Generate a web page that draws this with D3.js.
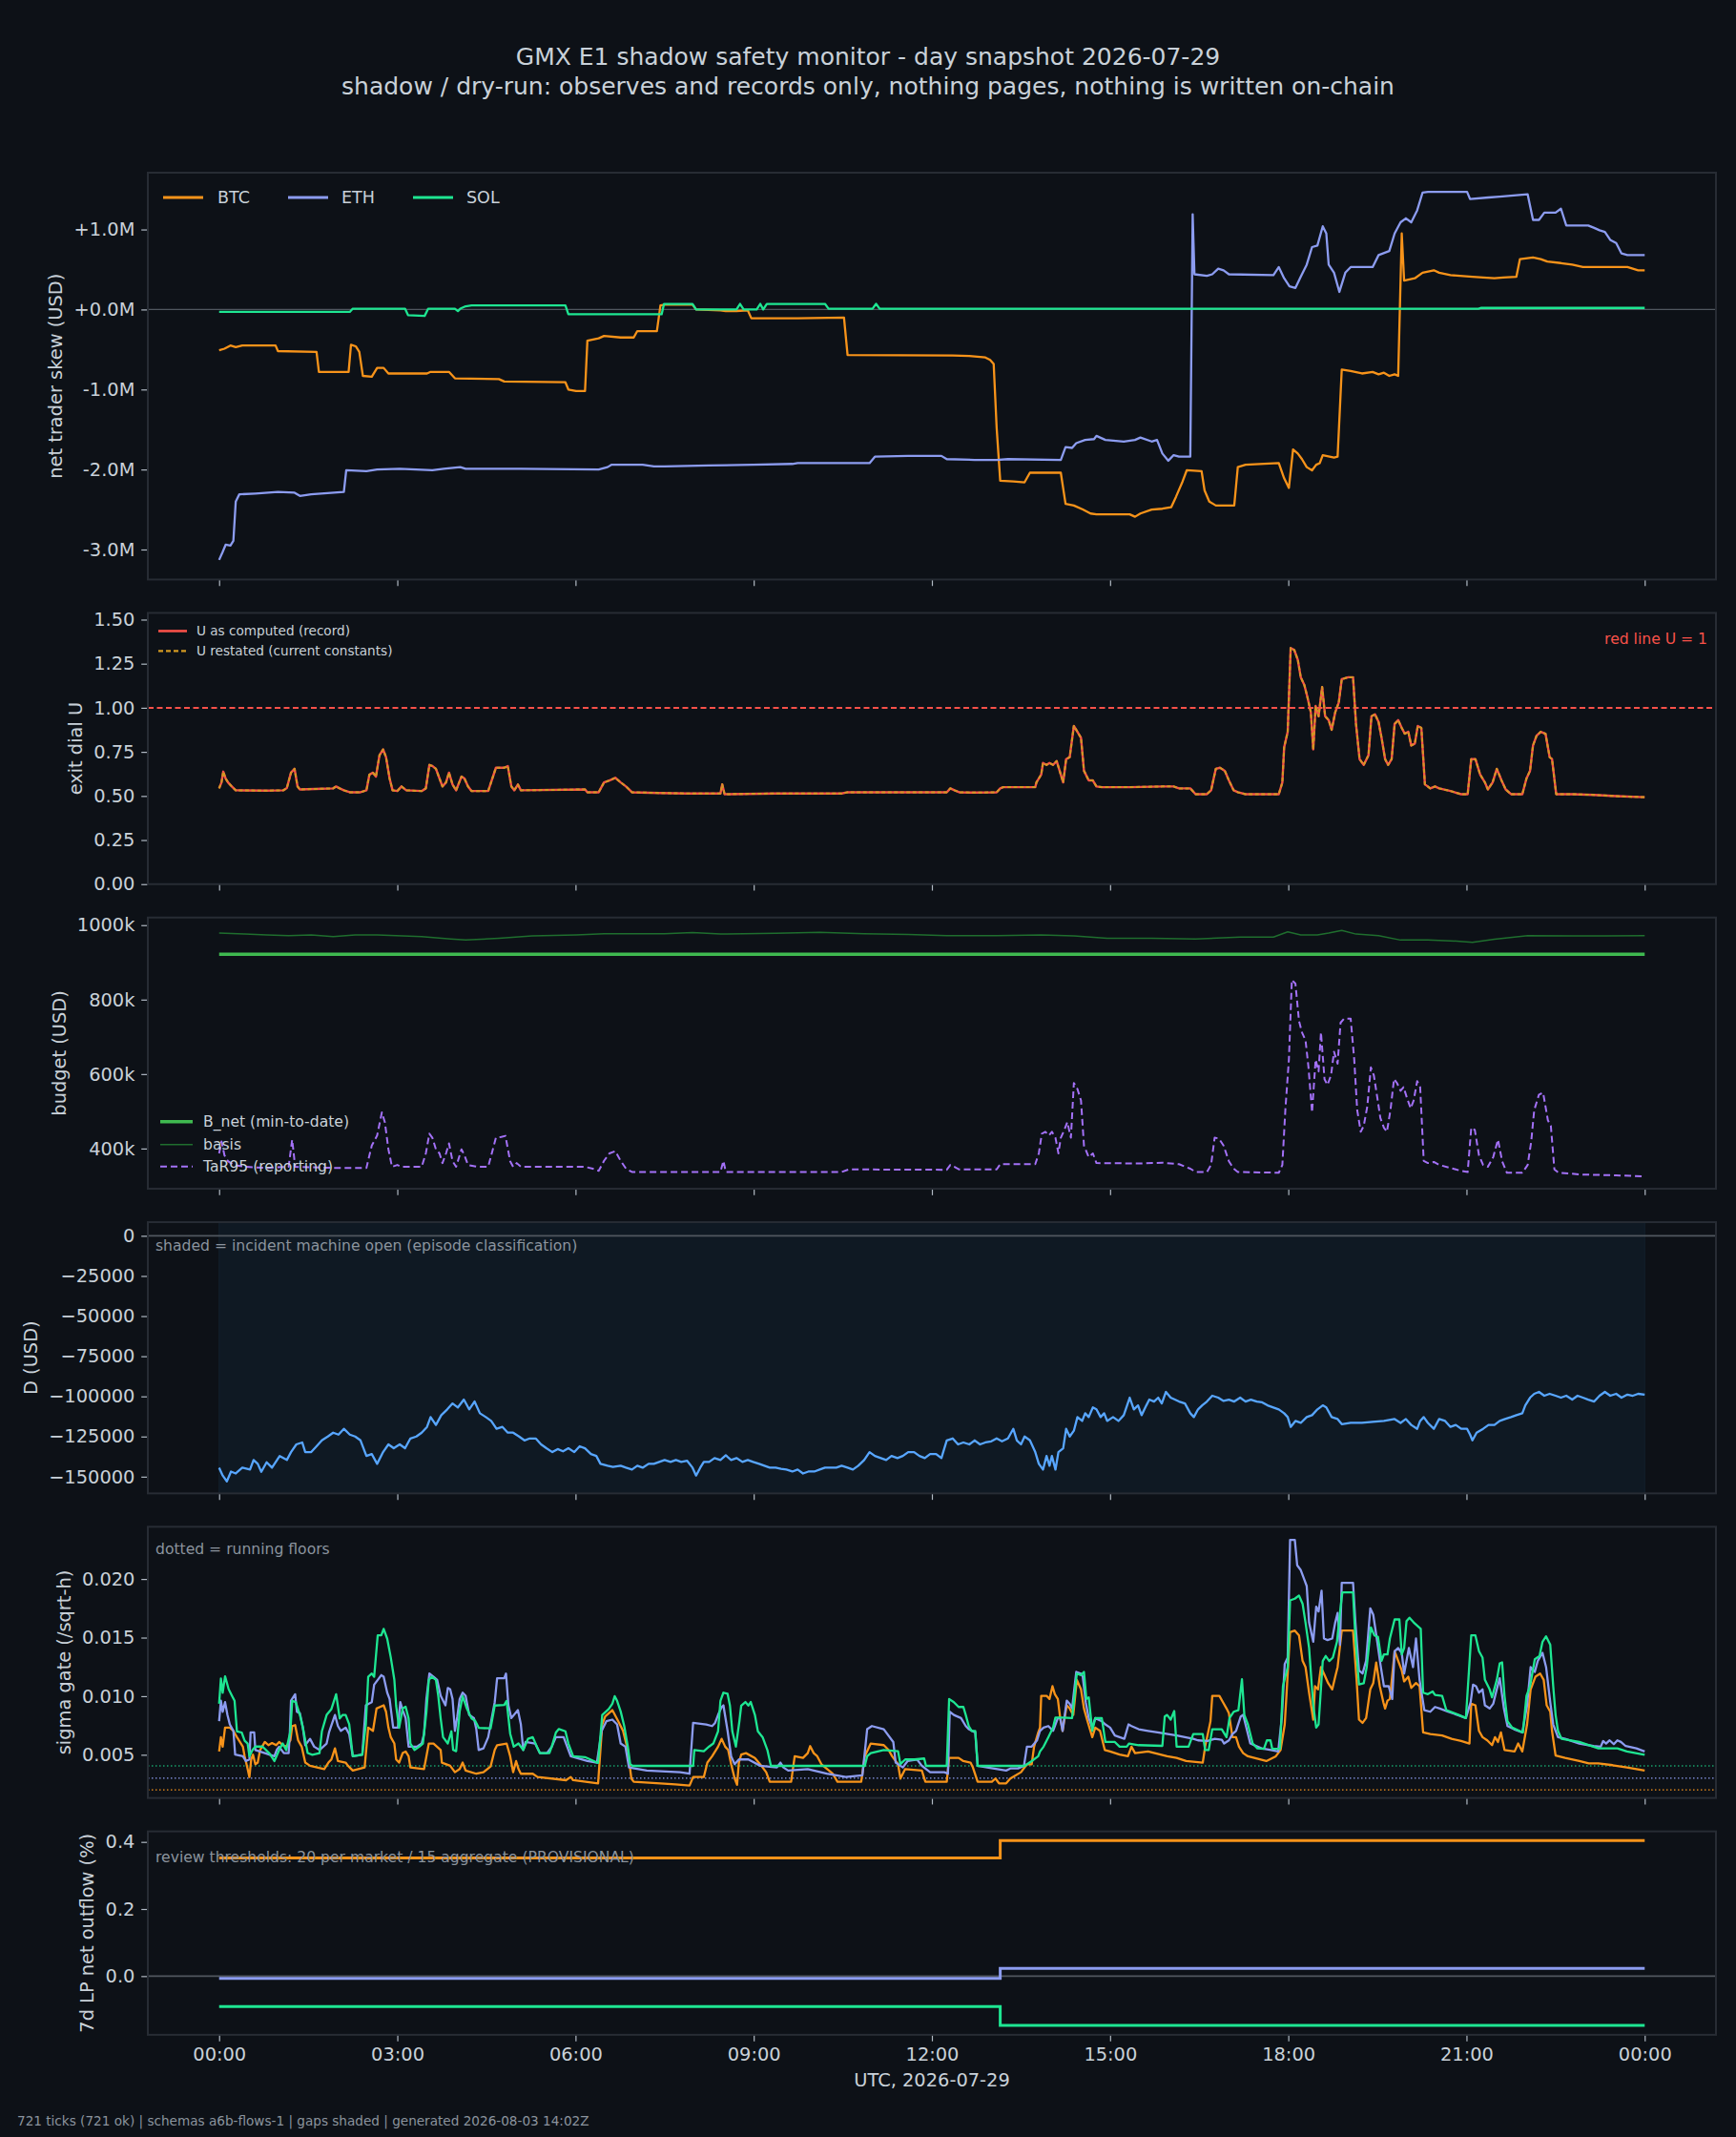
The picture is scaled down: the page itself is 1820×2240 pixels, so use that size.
<!DOCTYPE html>
<html>
<head>
<meta charset="utf-8">
<script src="https://cdn.jsdelivr.net/npm/d3@7"></script>
<style>
body { margin: 0; background: #0d1117; }
text { font-family: "DejaVu Sans", sans-serif; }
</style>
</head>
<body>
<div id="chart"></div>
<script>
// ---- data (hours since 00:00 UTC, value) ----
var hourTicks = [0, 3, 6, 9, 12, 15, 18, 21, 24];
var hourLabels = ["00:00", "03:00", "06:00", "09:00", "12:00", "15:00", "18:00", "21:00", "00:00"];

// net trader skew, USD millions
var skewBtc = [[0,-0.51],[0.09,-0.49],[0.19,-0.45],[0.28,-0.47],[0.39,-0.45],[0.95,-0.45],[0.99,-0.52],[1.64,-0.53],[1.68,-0.78],[2.18,-0.78],[2.22,-0.44],[2.3,-0.46],[2.36,-0.53],[2.42,-0.83],[2.57,-0.84],[2.66,-0.73],[2.77,-0.73],[2.85,-0.8],[3.5,-0.8],[3.56,-0.78],[3.87,-0.78],[3.97,-0.86],[4.71,-0.87],[4.8,-0.9],[5.83,-0.91],[5.88,-1.0],[6.01,-1.02],[6.16,-1.02],[6.2,-0.39],[6.39,-0.36],[6.48,-0.33],[6.76,-0.35],[6.98,-0.35],[7.04,-0.27],[7.37,-0.27],[7.43,0.05],[7.5,0.06],[7.97,0.06],[8.03,0.0],[8.44,-0.01],[8.53,-0.02],[8.71,-0.02],[8.9,-0.01],[8.96,-0.11],[9.74,-0.11],[10.52,-0.1],[10.58,-0.57],[12.35,-0.575],[12.63,-0.58],[12.9,-0.6],[12.98,-0.63],[13.04,-0.68],[13.09,-1.48],[13.15,-2.14],[13.37,-2.15],[13.56,-2.16],[13.65,-2.04],[14.17,-2.04],[14.25,-2.43],[14.39,-2.45],[14.54,-2.5],[14.67,-2.55],[14.77,-2.56],[15.33,-2.56],[15.42,-2.59],[15.51,-2.55],[15.7,-2.5],[15.88,-2.49],[16.03,-2.47],[16.11,-2.34],[16.22,-2.15],[16.29,-2.01],[16.54,-2.02],[16.59,-2.26],[16.67,-2.4],[16.78,-2.45],[17.09,-2.45],[17.15,-1.97],[17.28,-1.94],[17.84,-1.92],[17.93,-2.11],[18.01,-2.23],[18.08,-1.75],[18.16,-1.8],[18.23,-1.87],[18.31,-1.97],[18.4,-2.01],[18.47,-1.94],[18.53,-1.92],[18.58,-1.82],[18.77,-1.85],[18.83,-1.84],[18.9,-0.75],[19.05,-0.77],[19.24,-0.8],[19.42,-0.78],[19.52,-0.81],[19.61,-0.79],[19.7,-0.83],[19.79,-0.81],[19.85,-0.83],[19.91,0.95],[19.95,0.36],[20.13,0.39],[20.26,0.46],[20.45,0.49],[20.54,0.46],[20.73,0.43],[21.1,0.41],[21.28,0.4],[21.47,0.39],[21.62,0.4],[21.84,0.41],[21.9,0.63],[22.12,0.65],[22.25,0.63],[22.36,0.6],[22.59,0.58],[22.78,0.56],[22.96,0.53],[23.71,0.53],[23.8,0.51],[23.89,0.49],[24,0.49]];
var skewEth = [[0,-3.13],[0.06,-3.03],[0.11,-2.94],[0.19,-2.95],[0.24,-2.89],[0.28,-2.4],[0.34,-2.31],[0.61,-2.3],[0.99,-2.28],[1.27,-2.29],[1.36,-2.33],[1.55,-2.31],[2.1,-2.28],[2.14,-2.01],[2.48,-2.02],[2.66,-2.0],[3.04,-1.99],[3.59,-2.01],[3.78,-1.99],[4.06,-1.97],[4.15,-1.99],[5.08,-1.99],[6.39,-2.0],[6.54,-1.97],[6.61,-1.94],[7.13,-1.94],[7.32,-1.96],[7.5,-1.96],[8.25,-1.95],[8.99,-1.94],[9.65,-1.93],[9.74,-1.92],[10.95,-1.92],[11.04,-1.84],[11.6,-1.83],[12.16,-1.83],[12.25,-1.87],[12.72,-1.88],[13.09,-1.88],[13.28,-1.87],[14.17,-1.88],[14.25,-1.72],[14.36,-1.73],[14.43,-1.67],[14.58,-1.63],[14.73,-1.62],[14.77,-1.58],[14.92,-1.63],[15.23,-1.65],[15.42,-1.63],[15.51,-1.6],[15.7,-1.65],[15.79,-1.63],[15.88,-1.8],[15.98,-1.89],[16.07,-1.82],[16.16,-1.84],[16.35,-1.84],[16.39,1.19],[16.42,0.44],[16.63,0.42],[16.72,0.44],[16.82,0.51],[16.91,0.49],[17.0,0.44],[17.75,0.43],[17.84,0.53],[17.93,0.39],[18.02,0.29],[18.12,0.27],[18.21,0.41],[18.31,0.56],[18.4,0.78],[18.49,0.8],[18.58,1.04],[18.64,0.95],[18.68,0.56],[18.77,0.46],[18.86,0.22],[18.96,0.46],[19.05,0.53],[19.42,0.53],[19.52,0.68],[19.7,0.73],[19.79,0.95],[19.89,1.09],[19.98,1.14],[20.07,1.09],[20.17,1.24],[20.26,1.46],[20.35,1.47],[21.01,1.47],[21.06,1.38],[21.37,1.4],[21.56,1.41],[22.03,1.44],[22.12,1.12],[22.22,1.12],[22.31,1.21],[22.5,1.21],[22.59,1.26],[22.68,1.05],[23.05,1.05],[23.15,1.02],[23.24,0.99],[23.33,0.97],[23.42,0.87],[23.52,0.83],[23.61,0.7],[23.71,0.68],[24,0.68]];
var skewSol = [[0,-0.03],[2.2,-0.03],[2.25,0.01],[3.13,0.01],[3.18,-0.07],[3.46,-0.08],[3.52,0.01],[3.97,0.01],[4.02,-0.02],[4.06,0.01],[4.15,0.04],[4.25,0.05],[5.83,0.05],[5.88,-0.06],[7.45,-0.06],[7.49,0.07],[7.97,0.07],[8.03,0.0],[8.71,0.0],[8.77,0.07],[8.83,0.0],[9.05,0.0],[9.11,0.07],[9.16,0.0],[9.22,0.07],[10.2,0.07],[10.26,0.01],[11.0,0.01],[11.06,0.07],[11.12,0.01],[21.2,0.01],[21.25,0.02],[24,0.02]];

// exit dial U
var uRecord = [[0,0.543],[0.04,0.577],[0.07,0.638],[0.11,0.599],[0.15,0.577],[0.21,0.555],[0.28,0.532],[0.8,0.53],[1.08,0.532],[1.14,0.545],[1.21,0.632],[1.27,0.654],[1.32,0.554],[1.36,0.537],[1.73,0.541],[1.92,0.543],[1.97,0.554],[2.03,0.543],[2.1,0.532],[2.2,0.521],[2.38,0.521],[2.48,0.532],[2.53,0.621],[2.59,0.632],[2.64,0.61],[2.7,0.731],[2.76,0.764],[2.81,0.72],[2.87,0.599],[2.92,0.532],[3.0,0.528],[3.07,0.554],[3.15,0.532],[3.41,0.528],[3.48,0.543],[3.54,0.676],[3.59,0.67],[3.65,0.654],[3.71,0.599],[3.76,0.554],[3.82,0.577],[3.87,0.632],[3.93,0.565],[3.99,0.532],[4.08,0.61],[4.13,0.599],[4.19,0.554],[4.25,0.528],[4.53,0.528],[4.66,0.66],[4.8,0.66],[4.86,0.669],[4.92,0.554],[4.97,0.532],[5.03,0.565],[5.08,0.532],[6.16,0.537],[6.2,0.521],[6.39,0.521],[6.48,0.577],[6.57,0.588],[6.67,0.603],[6.76,0.577],[6.85,0.554],[6.95,0.521],[7.41,0.517],[7.88,0.514],[8.44,0.514],[8.47,0.566],[8.51,0.51],[9.37,0.514],[10.48,0.514],[10.58,0.521],[12.25,0.521],[12.31,0.543],[12.38,0.532],[12.46,0.521],[12.72,0.519],[13.09,0.521],[13.15,0.543],[13.2,0.55],[13.74,0.55],[13.76,0.577],[13.84,0.621],[13.87,0.687],[13.93,0.676],[13.98,0.687],[14.04,0.676],[14.1,0.698],[14.15,0.643],[14.21,0.577],[14.26,0.709],[14.32,0.72],[14.39,0.897],[14.45,0.864],[14.51,0.83],[14.56,0.643],[14.64,0.588],[14.71,0.588],[14.77,0.554],[14.86,0.55],[15.33,0.55],[15.88,0.554],[16.07,0.554],[16.16,0.543],[16.35,0.543],[16.44,0.51],[16.63,0.51],[16.7,0.532],[16.78,0.654],[16.85,0.66],[16.93,0.643],[17.0,0.588],[17.08,0.532],[17.15,0.521],[17.28,0.51],[17.84,0.51],[17.9,0.577],[17.93,0.775],[17.99,0.864],[18.04,1.339],[18.1,1.328],[18.16,1.272],[18.21,1.173],[18.27,1.129],[18.32,1.063],[18.38,0.974],[18.42,0.764],[18.46,1.01],[18.51,0.952],[18.57,1.118],[18.62,0.952],[18.68,0.93],[18.73,0.875],[18.79,0.974],[18.85,1.03],[18.9,1.162],[19.01,1.173],[19.09,1.173],[19.14,0.908],[19.2,0.709],[19.27,0.676],[19.35,0.731],[19.4,0.952],[19.46,0.963],[19.52,0.919],[19.57,0.83],[19.63,0.709],[19.68,0.676],[19.74,0.709],[19.79,0.908],[19.85,0.93],[19.91,0.886],[19.96,0.853],[20.02,0.864],[20.07,0.786],[20.13,0.797],[20.18,0.897],[20.24,0.886],[20.3,0.566],[20.39,0.543],[20.47,0.554],[20.54,0.543],[20.73,0.528],[20.91,0.51],[21.02,0.51],[21.08,0.709],[21.15,0.709],[21.23,0.621],[21.31,0.577],[21.36,0.537],[21.44,0.577],[21.51,0.654],[21.59,0.588],[21.66,0.537],[21.75,0.51],[21.94,0.51],[22.01,0.599],[22.07,0.643],[22.12,0.786],[22.18,0.842],[22.25,0.864],[22.33,0.853],[22.4,0.72],[22.44,0.709],[22.51,0.51],[22.78,0.51],[23.15,0.506],[23.52,0.499],[24,0.493]];
var uRedLine = 1.0;

// budget, USD thousands
var bNet = [[0,922],[24,922]];
var basis = [[0,979],[0.43,976],[0.8,974],[1.17,972],[1.55,974],[1.92,969],[2.29,974],[2.66,974],[3.41,969],[3.9,963],[4.15,960],[4.71,965],[5.27,971],[6.01,974],[6.48,977],[7.5,977],[7.97,980],[8.44,976],[9.37,978],[10.11,981],[10.86,977],[11.6,975],[12.25,972],[13.09,972],[13.84,974],[14.39,971],[14.95,965],[15.7,965],[16.44,963],[17.19,968],[17.75,968],[17.99,982],[18.21,974],[18.49,974],[18.68,979],[18.9,986],[19.14,976],[19.52,972],[19.89,960],[20.35,960],[20.73,958],[21.1,954],[21.47,962],[22.03,972],[22.78,971],[23.33,971],[24,972]];
var tar95 = [[0,387],[0.04,419],[0.09,382],[0.15,366],[0.24,356],[0.43,351],[0.8,348],[1.17,351],[1.23,424],[1.28,351],[1.92,348],[2.48,348],[2.57,408],[2.66,435],[2.74,497],[2.79,471],[2.85,398],[2.91,351],[3.0,356],[3.07,351],[3.41,351],[3.48,387],[3.54,440],[3.59,429],[3.65,398],[3.71,387],[3.76,361],[3.82,387],[3.87,414],[3.93,366],[3.99,351],[4.08,398],[4.13,382],[4.19,356],[4.34,351],[4.53,351],[4.66,429],[4.75,431],[4.82,434],[4.9,366],[4.95,351],[5.01,361],[5.08,351],[6.16,351],[6.29,346],[6.39,340],[6.48,367],[6.57,387],[6.67,393],[6.76,367],[6.85,346],[6.95,337],[8.44,337],[8.49,367],[8.53,337],[10.48,337],[10.6,344],[12.25,343],[12.31,356],[12.38,351],[12.46,344],[13.09,344],[13.15,358],[13.74,358],[13.8,387],[13.85,440],[13.91,445],[13.97,435],[14.02,445],[14.08,429],[14.13,387],[14.17,429],[14.23,450],[14.28,471],[14.34,429],[14.39,576],[14.45,560],[14.51,529],[14.56,408],[14.64,377],[14.71,387],[14.77,361],[15.51,360],[15.88,362],[16.16,358],[16.35,346],[16.44,337],[16.63,337],[16.7,356],[16.76,429],[16.83,427],[16.91,408],[17.0,366],[17.08,346],[17.15,337],[17.84,335],[17.9,356],[17.95,503],[18.01,639],[18.06,853],[18.12,843],[18.18,743],[18.23,712],[18.29,691],[18.34,618],[18.4,497],[18.46,639],[18.51,607],[18.55,712],[18.61,586],[18.66,571],[18.72,597],[18.77,660],[18.83,628],[18.88,738],[18.94,749],[19.05,749],[19.11,639],[19.16,503],[19.22,445],[19.27,461],[19.33,513],[19.39,618],[19.44,597],[19.5,535],[19.55,482],[19.61,456],[19.66,445],[19.72,503],[19.78,587],[19.83,576],[19.89,555],[19.94,565],[20.0,535],[20.06,508],[20.11,529],[20.17,581],[20.22,565],[20.28,367],[20.35,361],[20.45,364],[20.54,356],[20.73,348],[20.91,340],[21.02,337],[21.08,456],[21.14,450],[21.21,382],[21.28,356],[21.36,351],[21.45,377],[21.53,424],[21.6,366],[21.68,335],[21.94,335],[22.03,356],[22.09,419],[22.14,503],[22.22,545],[22.29,550],[22.37,476],[22.42,461],[22.48,344],[22.55,335],[22.96,330],[23.52,328],[24,325]];

// D, USD thousands; incident machine open windows (hours)
var incidentOpen = [[0, 24]];
var dUsdK = [[0,-144.4],[0.06,-149.3],[0.13,-152.9],[0.2,-146.8],[0.28,-148],[0.39,-144.4],[0.52,-145.6],[0.58,-139.6],[0.65,-142],[0.71,-147],[0.8,-141],[0.89,-144.4],[1.02,-137.1],[1.14,-139.6],[1.21,-134.7],[1.3,-129.9],[1.4,-128.7],[1.45,-134.7],[1.55,-134.7],[1.64,-131.1],[1.73,-127.4],[1.83,-125],[1.92,-122.6],[2.01,-123.8],[2.1,-120.2],[2.2,-123.8],[2.29,-125],[2.38,-127.4],[2.48,-137.1],[2.57,-135.9],[2.66,-142],[2.76,-134.7],[2.85,-129.9],[2.94,-132.3],[3.04,-129.9],[3.13,-132.3],[3.22,-126.2],[3.32,-125],[3.41,-122.6],[3.5,-119],[3.56,-112.9],[3.65,-117.8],[3.74,-111.7],[3.84,-108.1],[3.93,-104.4],[4.02,-106.9],[4.12,-102],[4.21,-108.1],[4.3,-103.2],[4.39,-110.5],[4.49,-112.9],[4.58,-115.3],[4.67,-120.2],[4.77,-119],[4.86,-122.6],[4.95,-122.6],[5.05,-125],[5.14,-127.4],[5.23,-126.2],[5.33,-126.2],[5.42,-129.9],[5.51,-132.3],[5.61,-134.7],[5.7,-132.8],[5.79,-134.2],[5.88,-132.3],[5.98,-134.7],[6.07,-131.1],[6.16,-132.3],[6.26,-135.9],[6.35,-137.1],[6.42,-142],[6.54,-143.2],[6.63,-143.9],[6.76,-143.2],[6.85,-144.4],[6.95,-145.6],[7.04,-143.2],[7.13,-144.4],[7.23,-142],[7.32,-142],[7.41,-140.8],[7.5,-139.6],[7.6,-140.8],[7.69,-139.6],[7.78,-140.8],[7.88,-140.1],[7.97,-144.4],[8.03,-149.3],[8.1,-144.4],[8.16,-140.8],[8.25,-140.8],[8.34,-138.4],[8.44,-139.6],[8.53,-136.7],[8.62,-139.6],[8.71,-138.4],[8.81,-140.8],[8.9,-139.6],[8.99,-140.8],[9.09,-142],[9.18,-143.2],[9.27,-144.4],[9.37,-144.4],[9.46,-145.1],[9.55,-145.6],[9.65,-146.8],[9.74,-145.6],[9.83,-148],[9.92,-146.8],[10.02,-146.8],[10.11,-145.6],[10.2,-144.4],[10.39,-144.4],[10.48,-143.2],[10.58,-144.4],[10.67,-145.6],[10.76,-143.2],[10.86,-139.6],[10.95,-134.7],[11.04,-137.1],[11.14,-138.4],[11.23,-139.6],[11.32,-137.1],[11.42,-138.4],[11.51,-137.1],[11.6,-134.7],[11.7,-134.7],[11.79,-137.1],[11.88,-138.4],[11.97,-135.9],[12.07,-135.9],[12.16,-138.4],[12.25,-127.4],[12.35,-126.2],[12.44,-129.9],[12.53,-128.7],[12.63,-129.9],[12.72,-127.4],[12.81,-129.9],[12.9,-128.7],[13.0,-128],[13.09,-126.2],[13.18,-128],[13.28,-126.2],[13.37,-120.2],[13.43,-127.4],[13.5,-129.9],[13.56,-125],[13.65,-127.4],[13.74,-134.7],[13.8,-142],[13.87,-145.6],[13.93,-137.1],[13.98,-143.2],[14.02,-137.1],[14.08,-145.6],[14.13,-134.7],[14.21,-132.3],[14.26,-120.2],[14.32,-125],[14.39,-121.4],[14.45,-112.9],[14.53,-115.3],[14.58,-110.5],[14.64,-112.9],[14.71,-106.9],[14.77,-108.1],[14.84,-112.9],[14.9,-110.5],[14.95,-115.3],[15.05,-112.9],[15.14,-115.3],[15.23,-111.7],[15.33,-100.8],[15.4,-108.1],[15.47,-105.6],[15.53,-111.7],[15.61,-105.6],[15.66,-102],[15.74,-103.2],[15.81,-100.8],[15.87,-104.4],[15.94,-97.2],[16.02,-100.8],[16.09,-102],[16.16,-103.2],[16.26,-104.4],[16.35,-110.5],[16.41,-112.9],[16.48,-108.1],[16.55,-105.6],[16.63,-103.2],[16.72,-99.6],[16.82,-100.8],[16.91,-102.8],[17.0,-102],[17.09,-103.2],[17.19,-100.8],[17.28,-103.2],[17.37,-102],[17.47,-103.2],[17.56,-103.7],[17.65,-105.6],[17.75,-106.9],[17.84,-108.1],[17.93,-110.5],[17.99,-112.9],[18.04,-119],[18.12,-115.3],[18.21,-116.5],[18.31,-112.9],[18.4,-111.7],[18.49,-108.1],[18.58,-105.6],[18.64,-106.9],[18.73,-112.9],[18.83,-114.1],[18.9,-117.3],[19.05,-116.5],[19.24,-116.5],[19.42,-115.8],[19.61,-115.3],[19.79,-114.1],[19.89,-116.5],[19.98,-114.1],[20.07,-117.8],[20.17,-120.2],[20.22,-115.3],[20.28,-112.9],[20.35,-116.5],[20.45,-120.2],[20.54,-114.1],[20.64,-115.3],[20.73,-119],[20.82,-117.8],[20.91,-120.2],[21.01,-120.2],[21.06,-123.8],[21.1,-127.4],[21.17,-122.6],[21.28,-120.2],[21.37,-117.8],[21.47,-117.8],[21.56,-115.3],[21.65,-114.1],[21.75,-112.9],[21.84,-111.7],[21.94,-110.5],[21.99,-105.6],[22.07,-100.8],[22.14,-98.4],[22.22,-97.2],[22.31,-99.6],[22.4,-98.4],[22.5,-99.6],[22.59,-100.8],[22.68,-99.6],[22.78,-102],[22.87,-99.6],[22.96,-100.8],[23.05,-102],[23.15,-103.2],[23.24,-99.6],[23.33,-97.2],[23.42,-99.6],[23.52,-98.4],[23.61,-100.8],[23.71,-98.9],[23.8,-99.6],[23.89,-98.4],[24,-98.9]];

// sigma gate, units of 1e-3 per sqrt-hour; running floors
var sigmaFloorBtc = 2.0, sigmaFloorEth = 3.0, sigmaFloorSol = 4.05;
var sigmaBtc = [[0,5.28],[0.03,6.5],[0.06,5.69],[0.1,7.32],[0.18,7.32],[0.24,7.04],[0.3,6.5],[0.4,5.69],[0.43,4.87],[0.48,3.78],[0.51,3.1],[0.54,4.6],[0.57,5.01],[0.61,4.19],[0.65,4.33],[0.69,5.41],[0.77,6.09],[0.83,5.82],[0.89,6.0],[0.96,5.82],[1.01,6.09],[1.07,5.82],[1.13,5.69],[1.2,6.23],[1.23,7.45],[1.28,7.53],[1.33,6.23],[1.39,5.69],[1.45,4.33],[1.53,4.06],[1.77,3.78],[1.84,4.33],[1.89,4.6],[1.95,5.55],[2.0,4.46],[2.13,4.33],[2.17,4.06],[2.25,3.65],[2.45,3.92],[2.51,7.32],[2.59,7.04],[2.65,8.95],[2.77,9.22],[2.81,8.67],[2.85,7.32],[2.89,6.5],[2.95,5.96],[2.98,4.6],[3.03,4.33],[3.09,5.14],[3.14,5.28],[3.19,4.87],[3.22,3.92],[3.45,3.78],[3.49,4.87],[3.53,5.96],[3.61,5.96],[3.73,5.41],[3.75,4.33],[3.89,4.06],[3.97,3.51],[4.05,3.78],[4.1,4.33],[4.15,3.65],[4.33,3.38],[4.45,3.51],[4.57,4.0],[4.64,5.41],[4.68,5.82],[4.84,5.96],[4.9,4.87],[4.95,3.51],[5.0,4.46],[5.04,3.78],[5.08,3.38],[5.28,3.38],[5.36,3.1],[5.84,2.83],[5.92,3.1],[5.96,2.83],[6.38,2.56],[6.45,7.59],[6.5,8.27],[6.62,8.81],[6.72,7.86],[6.8,7.04],[6.88,5.41],[6.94,2.97],[6.98,2.7],[7.68,2.48],[7.92,2.37],[7.98,3.1],[8.16,3.1],[8.22,4.33],[8.3,4.87],[8.4,5.69],[8.46,6.36],[8.52,5.69],[8.57,5.41],[8.62,4.19],[8.68,2.97],[8.72,2.43],[8.75,4.33],[8.79,5.01],[8.87,5.14],[9.02,4.73],[9.15,3.92],[9.21,3.51],[9.27,2.7],[9.63,2.7],[9.69,4.87],[9.83,4.73],[9.91,5.14],[9.95,5.74],[10.01,5.14],[10.07,4.87],[10.14,4.19],[10.33,3.38],[10.41,2.7],[10.81,2.7],[10.87,4.87],[10.97,5.96],[11.19,5.82],[11.27,5.41],[11.33,4.87],[11.43,4.19],[11.47,2.97],[11.55,3.78],[11.83,3.65],[11.89,2.7],[12.25,2.7],[12.29,4.73],[12.45,4.73],[12.53,4.46],[12.65,4.33],[12.69,3.92],[12.77,2.7],[13.01,2.7],[13.07,2.97],[13.13,2.56],[13.25,2.56],[13.32,2.97],[13.5,3.51],[13.6,4.19],[13.68,4.19],[13.72,5.69],[13.79,6.91],[13.82,7.32],[13.84,10.03],[13.93,10.03],[13.98,9.76],[14.03,10.85],[14.07,10.17],[14.12,9.76],[14.16,8.13],[14.2,7.04],[14.27,9.22],[14.32,8.95],[14.38,8.4],[14.44,11.39],[14.51,10.58],[14.56,8.95],[14.62,7.86],[14.7,6.5],[14.75,7.32],[14.83,7.04],[14.91,5.41],[15.0,5.28],[15.16,5.01],[15.3,4.87],[15.36,5.69],[15.42,5.14],[15.64,5.28],[15.96,4.87],[16.12,4.73],[16.28,4.46],[16.56,4.33],[16.6,5.69],[16.69,7.86],[16.72,10.03],[16.84,10.03],[16.9,9.49],[16.96,8.95],[17.0,8.54],[17.06,6.5],[17.12,6.5],[17.17,5.69],[17.24,5.14],[17.32,4.87],[17.63,4.46],[17.79,4.87],[17.87,5.41],[17.94,7.59],[17.97,10.17],[18.03,15.46],[18.11,15.6],[18.18,15.19],[18.24,13.02],[18.29,12.48],[18.35,10.3],[18.42,8.0],[18.45,10.85],[18.5,10.58],[18.55,12.48],[18.61,11.8],[18.67,11.12],[18.74,10.58],[18.79,11.66],[18.83,12.48],[18.9,15.6],[19.09,15.6],[19.15,11.39],[19.19,8.0],[19.25,7.72],[19.31,8.13],[19.38,10.58],[19.43,11.12],[19.48,12.88],[19.54,10.85],[19.6,9.49],[19.63,8.95],[19.67,9.62],[19.71,9.76],[19.79,13.84],[19.85,13.02],[19.91,12.2],[19.95,11.26],[20.02,11.66],[20.07,10.71],[20.15,11.12],[20.21,10.85],[20.27,6.91],[20.39,6.77],[20.59,6.64],[20.75,6.36],[20.91,6.17],[21.05,5.96],[21.08,9.35],[21.15,9.22],[21.21,7.04],[21.27,6.5],[21.35,6.23],[21.43,5.82],[21.48,6.5],[21.53,6.09],[21.58,6.91],[21.64,5.41],[21.81,5.28],[21.87,5.96],[21.94,5.28],[22.02,7.59],[22.08,10.58],[22.16,11.66],[22.24,11.93],[22.3,11.39],[22.35,9.22],[22.41,8.67],[22.44,7.04],[22.5,4.93],[22.66,4.73],[22.9,4.46],[23.06,4.27],[23.22,4.27],[23.46,4.11],[23.7,3.92],[24,3.65]];
var sigmaEth = [[0,7.86],[0.03,9.62],[0.06,8.67],[0.1,9.49],[0.14,8.4],[0.18,7.59],[0.24,7.04],[0.27,5.01],[0.4,4.87],[0.45,4.46],[0.51,4.6],[0.53,6.91],[0.59,6.91],[0.61,5.41],[0.93,4.87],[0.97,5.41],[1.01,5.69],[1.09,5.14],[1.17,5.14],[1.19,6.77],[1.21,9.62],[1.28,10.17],[1.31,8.67],[1.36,8.54],[1.41,7.32],[1.45,5.82],[1.53,6.36],[1.6,5.69],[1.69,5.41],[1.81,5.96],[1.85,6.91],[1.95,8.4],[2.0,7.45],[2.05,7.04],[2.13,7.32],[2.19,6.77],[2.25,4.87],[2.41,5.01],[2.47,9.22],[2.57,9.49],[2.61,10.98],[2.67,11.39],[2.73,11.8],[2.77,11.66],[2.83,10.3],[2.87,9.76],[2.93,7.32],[3.01,7.32],[3.05,9.49],[3.09,8.81],[3.14,8.13],[3.19,5.69],[3.33,5.69],[3.41,5.96],[3.45,6.77],[3.49,9.76],[3.54,11.93],[3.61,11.66],[3.67,11.39],[3.73,10.03],[3.81,9.22],[3.85,10.7],[3.89,10.58],[3.93,9.76],[3.97,7.04],[4.01,8.27],[4.05,9.76],[4.1,10.3],[4.15,10.03],[4.21,8.4],[4.29,8.13],[4.33,7.18],[4.37,5.41],[4.45,5.55],[4.53,6.5],[4.64,9.49],[4.68,11.53],[4.8,11.53],[4.83,11.93],[4.87,9.22],[4.92,8.13],[5.03,8.81],[5.08,7.59],[5.12,5.41],[5.16,6.09],[5.32,5.96],[5.4,5.14],[5.52,5.14],[5.6,5.69],[5.67,6.5],[5.8,6.5],[5.84,5.96],[5.92,4.87],[6.2,4.46],[6.36,4.33],[6.44,7.04],[6.52,7.86],[6.62,8.0],[6.7,7.59],[6.76,5.96],[6.84,5.69],[6.9,3.92],[7.2,3.65],[7.76,3.51],[7.92,3.38],[7.98,7.72],[8.2,7.59],[8.3,7.45],[8.35,7.72],[8.4,8.4],[8.46,9.08],[8.49,9.22],[8.56,7.04],[8.62,4.87],[8.68,4.19],[8.75,4.6],[8.91,4.6],[9.11,4.06],[9.39,3.92],[9.45,4.33],[9.5,3.92],[9.58,3.65],[9.91,3.78],[10.23,3.38],[10.55,3.1],[10.83,3.24],[10.91,7.18],[10.99,7.45],[11.19,7.18],[11.35,6.09],[11.39,4.33],[11.51,3.92],[11.59,4.46],[11.75,4.6],[11.83,4.06],[11.97,3.51],[12.21,3.51],[12.27,3.38],[12.3,8.67],[12.37,8.4],[12.49,8.13],[12.57,7.45],[12.62,7.18],[12.73,6.91],[12.77,4.06],[12.93,3.92],[13.25,3.65],[13.33,3.84],[13.45,3.84],[13.55,4.06],[13.6,5.69],[13.68,5.69],[13.77,6.23],[13.82,7.04],[13.88,7.32],[13.96,7.45],[14.04,7.04],[14.12,8.13],[14.16,8.13],[14.2,7.04],[14.27,9.62],[14.32,9.35],[14.36,8.95],[14.43,12.07],[14.51,11.93],[14.54,11.66],[14.59,9.49],[14.64,8.13],[14.7,7.32],[14.75,8.13],[14.86,7.86],[14.92,7.59],[15.0,7.32],[15.08,6.64],[15.24,6.36],[15.31,7.59],[15.36,7.45],[15.48,7.18],[15.64,7.04],[15.8,6.91],[16.12,6.64],[16.4,6.36],[16.48,6.23],[16.64,6.17],[16.76,6.36],[16.88,6.28],[16.92,5.96],[17.0,6.23],[17.06,6.77],[17.12,7.04],[17.2,8.27],[17.24,8.4],[17.28,7.59],[17.36,5.96],[17.55,5.55],[17.71,5.41],[17.83,5.28],[17.89,8.13],[17.94,12.75],[17.99,13.29],[18.03,23.34],[18.11,23.34],[18.15,21.17],[18.21,20.76],[18.26,20.08],[18.31,19.4],[18.35,16.28],[18.42,14.65],[18.47,17.64],[18.51,17.23],[18.56,19.0],[18.6,14.92],[18.66,14.79],[18.74,14.92],[18.79,16.28],[18.83,17.1],[18.87,14.38],[18.9,19.68],[19.09,19.68],[19.13,16.28],[19.19,12.2],[19.25,11.93],[19.31,13.02],[19.38,17.5],[19.43,16.96],[19.49,14.92],[19.55,12.75],[19.61,10.85],[19.69,10.85],[19.75,9.76],[19.79,13.84],[19.85,14.11],[19.91,13.7],[19.95,11.93],[20.03,14.11],[20.1,12.48],[20.15,14.92],[20.21,11.39],[20.29,8.81],[20.39,8.67],[20.47,9.08],[20.55,8.95],[20.69,8.67],[20.85,8.4],[20.99,8.13],[21.07,9.49],[21.11,10.98],[21.16,10.85],[21.21,10.3],[21.27,10.58],[21.31,9.22],[21.39,8.95],[21.45,9.35],[21.51,10.58],[21.56,11.53],[21.63,8.95],[21.69,7.45],[21.8,7.18],[21.94,6.91],[22.02,9.22],[22.08,12.48],[22.15,12.07],[22.2,13.02],[22.28,13.7],[22.34,12.48],[22.41,9.49],[22.46,7.59],[22.54,6.5],[22.66,6.36],[22.9,5.96],[23.14,5.74],[23.26,5.69],[23.3,6.17],[23.35,5.96],[23.41,6.23],[23.48,5.9],[23.54,6.23],[23.6,6.1],[23.68,5.74],[23.86,5.55],[24,5.28]];
var sigmaSol = [[0,9.35],[0.03,11.5],[0.06,10.3],[0.1,11.7],[0.16,10.6],[0.22,10.0],[0.26,9.6],[0.3,7.0],[0.38,6.9],[0.43,6.2],[0.48,5.96],[0.51,4.87],[0.56,5.4],[0.61,5.7],[0.73,5.7],[0.85,5.1],[0.93,4.46],[1.01,5.4],[1.07,5.96],[1.13,5.4],[1.2,7.0],[1.23,9.6],[1.29,9.5],[1.36,8.4],[1.41,7.3],[1.49,5.15],[1.57,5.0],[1.69,5.14],[1.73,7.0],[1.81,8.4],[1.89,8.9],[1.97,10.17],[2.03,8.1],[2.08,8.4],[2.13,8.4],[2.19,7.6],[2.25,4.87],[2.41,5.0],[2.47,7.6],[2.51,11.66],[2.57,11.93],[2.61,11.66],[2.67,15.19],[2.73,15.19],[2.77,15.74],[2.83,14.9],[2.89,13.3],[2.95,11.4],[2.98,9.2],[3.03,7.3],[3.09,8.95],[3.14,9.1],[3.19,8.1],[3.22,5.96],[3.29,5.41],[3.37,5.69],[3.43,5.96],[3.49,8.67],[3.53,11.39],[3.58,11.66],[3.65,11.39],[3.69,10.0],[3.73,8.1],[3.77,6.5],[3.85,5.96],[3.91,7.0],[3.94,5.41],[3.99,5.3],[4.05,8.7],[4.1,10.0],[4.17,8.95],[4.25,8.1],[4.31,7.9],[4.37,7.3],[4.57,7.25],[4.64,9.2],[4.8,9.25],[4.84,9.6],[4.9,6.8],[4.96,5.69],[5.04,5.96],[5.12,5.41],[5.2,6.36],[5.28,6.5],[5.35,5.69],[5.4,5.14],[5.56,5.14],[5.6,5.69],[5.67,6.9],[5.72,7.2],[5.83,7.0],[5.88,5.96],[5.96,4.87],[6.16,4.8],[6.38,4.3],[6.45,8.4],[6.56,8.9],[6.62,9.35],[6.66,10.0],[6.7,9.6],[6.76,8.7],[6.82,7.45],[6.88,5.7],[6.92,4.2],[6.96,4.05],[7.98,4.05],[8.0,5.41],[8.16,5.3],[8.25,5.7],[8.32,5.96],[8.4,7.0],[8.44,9.6],[8.49,10.3],[8.56,10.2],[8.6,9.2],[8.64,7.0],[8.7,5.7],[8.76,7.9],[8.79,9.2],[8.86,9.5],[8.91,9.2],[8.95,9.5],[9.02,8.4],[9.07,7.0],[9.15,6.5],[9.23,5.41],[9.29,4.05],[10.87,4.05],[10.91,4.87],[10.97,5.14],[11.19,5.41],[11.43,5.3],[11.47,4.2],[11.55,4.6],[11.71,4.6],[11.87,4.68],[11.9,4.05],[12.25,4.05],[12.29,9.76],[12.37,9.49],[12.45,9.08],[12.53,9.08],[12.57,8.4],[12.62,7.45],[12.67,7.04],[12.73,7.04],[12.77,4.05],[13.56,4.05],[13.68,4.46],[13.79,4.87],[13.82,5.28],[13.88,5.69],[13.96,6.5],[14.04,7.32],[14.08,8.18],[14.2,8.18],[14.36,8.13],[14.44,11.93],[14.51,11.8],[14.56,12.07],[14.6,9.76],[14.64,9.9],[14.7,7.04],[14.75,8.13],[14.86,8.13],[14.92,6.09],[15.08,6.09],[15.16,5.69],[15.28,5.69],[15.32,5.96],[15.48,5.82],[15.88,5.76],[15.92,8.27],[15.96,8.4],[16.02,8.0],[16.08,8.73],[16.12,5.69],[16.32,5.69],[16.4,6.77],[16.56,6.77],[16.6,5.41],[16.66,5.41],[16.72,7.18],[16.88,7.18],[16.96,6.5],[17.01,8.13],[17.08,8.67],[17.16,8.81],[17.22,11.44],[17.26,8.4],[17.32,7.59],[17.4,5.96],[17.48,5.55],[17.59,5.5],[17.64,6.23],[17.7,6.23],[17.73,5.5],[17.86,5.5],[17.91,10.85],[17.99,12.48],[18.03,18.18],[18.11,18.32],[18.18,18.59],[18.24,17.9],[18.29,16.28],[18.35,14.11],[18.42,9.22],[18.47,7.32],[18.51,7.59],[18.58,13.0],[18.63,13.43],[18.69,13.0],[18.75,13.29],[18.82,14.65],[18.87,17.1],[18.91,18.86],[19.09,18.86],[19.13,14.9],[19.19,11.0],[19.27,11.1],[19.32,12.48],[19.39,15.87],[19.45,15.19],[19.51,15.05],[19.57,13.02],[19.61,13.56],[19.67,13.56],[19.71,14.92],[19.79,16.55],[19.87,16.55],[19.91,13.56],[19.95,14.1],[19.99,16.4],[20.04,16.7],[20.11,16.3],[20.23,15.74],[20.27,10.3],[20.35,10.17],[20.43,10.4],[20.47,10.1],[20.59,10.03],[20.66,8.81],[20.87,8.4],[20.99,8.13],[21.08,15.19],[21.15,15.19],[21.21,13.84],[21.27,13.29],[21.31,11.39],[21.39,10.58],[21.43,9.9],[21.51,11.39],[21.56,12.8],[21.6,12.88],[21.64,10.03],[21.69,7.86],[21.77,7.32],[21.95,6.9],[22.01,10.03],[22.07,10.85],[22.15,13.15],[22.23,13.43],[22.28,14.65],[22.34,15.11],[22.41,14.4],[22.46,10.85],[22.5,8.4],[22.54,7.04],[22.6,6.36],[22.9,6.09],[23.22,5.55],[23.54,5.55],[23.7,5.28],[24,5.0]];

// 7d LP net outflow, percent (steps)
var lpBtc = [[0,0.352],[13.15,0.404],[24,0.404]];
var lpEth = [[0,-0.007],[13.15,0.023],[24,0.023]];
var lpSol = [[0,-0.091],[13.15,-0.147],[24,-0.147]];

// ---- styling ----
var BG = "#0d1117", SPINE = "#272c34", TXT = "#c9d1d9", MUTED = "#8b949e", ZERO = "#50575f";
var COL = { btc: "#f7931a", eth: "#8c9cf0", sol: "#1ee692", d: "#58a6ff", red: "#f85149",
            restated: "#d29922", bnet: "#3fb950", basis: "#1f6e2e", tar: "#a371f7", shade: "#0f1923" };
var FS = 19.4;

var W = 1820, H = 2240;
var left = 155, right = 1799, top0 = 181, unit = 284.3, gap = 35;
var ratios = [1.5, 1, 1, 1, 1, 0.75];

var svg = d3.select("#chart").append("svg")
    .attr("width", W).attr("height", H);
svg.append("rect").attr("width", W).attr("height", H).attr("fill", BG);

var x = d3.scaleLinear().domain([-1.2, 25.2]).range([left, right]);

var line = function(y) {
    return d3.line().x(function(d) { return x(d[0]); }).y(function(d) { return y(d[1]); });
};

// title
svg.append("text").attr("x", 910).attr("y", 59).attr("dy", "0.35em")
    .attr("text-anchor", "middle").attr("fill", TXT).attr("font-size", 25)
    .text("GMX E1 shadow safety monitor - day snapshot 2026-07-29");
svg.append("text").attr("x", 910).attr("y", 90).attr("dy", "0.35em")
    .attr("text-anchor", "middle").attr("fill", TXT).attr("font-size", 25)
    .text("shadow / dry-run: observes and records only, nothing pages, nothing is written on-chain");

var tops = [], heights = [];
var cur = top0;
ratios.forEach(function(r) {
    tops.push(cur); heights.push(r * unit);
    cur += r * unit + gap;
});

function makePanel(i, yDomain, yTicks, yFormat, yLabel) {
    var p = {};
    p.h = heights[i];
    p.g = svg.append("g").attr("transform", "translate(0," + tops[i] + ")");
    p.y = d3.scaleLinear().domain(yDomain).range([p.h, 0]);
    p.g.append("clipPath").attr("id", "clip" + i)
        .append("rect").attr("x", left).attr("y", 0).attr("width", right - left).attr("height", p.h);
    p.back = p.g.append("g").attr("clip-path", "url(#clip" + i + ")");
    p.plot = p.g.append("g").attr("clip-path", "url(#clip" + i + ")");
    p.front = p.g.append("g");

    var yAxis = p.g.append("g").attr("transform", "translate(" + left + ",0)")
        .call(d3.axisLeft(p.y).tickValues(yTicks).tickFormat(yFormat).tickSize(6.8).tickPadding(6.8));
    var xAxis = p.g.append("g").attr("transform", "translate(0," + p.h + ")")
        .call(d3.axisBottom(x).tickValues(hourTicks)
            .tickFormat(i === ratios.length - 1 ? function(d, k) { return hourLabels[k]; } : "")
            .tickSize(6.8).tickPadding(6.8));
    [yAxis, xAxis].forEach(function(a) {
        a.select(".domain").remove();
        a.selectAll(".tick line").attr("stroke", "#b1bac4").attr("stroke-width", 1.2);
        a.selectAll(".tick text").attr("fill", TXT).attr("font-size", FS)
            .attr("font-family", "DejaVu Sans");
    });
    p.g.append("rect").attr("x", left).attr("y", 0).attr("width", right - left).attr("height", p.h)
        .attr("fill", "none").attr("stroke", SPINE).attr("stroke-width", 2);

    var bb = yAxis.node().getBBox();
    var lx = left + bb.x - 7.8 - 11.3;
    p.g.append("text").attr("transform", "translate(" + lx + "," + (p.h / 2) + ") rotate(-90)")
        .attr("dy", "0.35em").attr("text-anchor", "middle").attr("fill", TXT).attr("font-size", FS)
        .text(yLabel);
    return p;
}

function drawLine(p, data, color, width, dash, layer) {
    (layer || p.plot).append("path").datum(data)
        .attr("d", line(p.y))
        .attr("fill", "none").attr("stroke", color).attr("stroke-width", width)
        .attr("stroke-linejoin", "round")
        .attr("stroke-dasharray", dash || null);
}

function hline(p, v, color, width, dash) {
    p.plot.append("line").attr("x1", left).attr("x2", right)
        .attr("y1", p.y(v)).attr("y2", p.y(v))
        .attr("stroke", color).attr("stroke-width", width).attr("stroke-dasharray", dash || null);
}

function legend(p, items, x1, x2, tx, ys, fs) {
    items.forEach(function(it, k) {
        var yy = ys[k];
        var xa = Array.isArray(x1) ? x1[k] : x1, xb = Array.isArray(x2) ? x2[k] : x2,
            xt = Array.isArray(tx) ? tx[k] : tx;
        p.front.append("line").attr("x1", xa).attr("x2", xb).attr("y1", yy).attr("y2", yy)
            .attr("stroke", it.color).attr("stroke-width", it.width).attr("stroke-dasharray", it.dash || null);
        p.front.append("text").attr("x", xt).attr("y", yy).attr("dy", "0.35em")
            .attr("fill", TXT).attr("font-size", fs).text(it.label);
    });
}

function note(p, txt, yy, color, anchor, xx) {
    p.front.append("text").attr("x", xx || left + 8).attr("y", yy).attr("dy", "0.35em")
        .attr("text-anchor", anchor || "start")
        .attr("fill", color || MUTED).attr("font-size", 15.6).text(txt);
}

// ---- panel 1: net trader skew ----
var p1 = makePanel(0, [-3.375, 1.71], [-3, -2, -1, 0, 1],
    function(d) { return (d >= 0 ? "+" : "-") + Math.abs(d).toFixed(1) + "M"; }, "net trader skew (USD)");
hline(p1, 0, ZERO, 1.4);
drawLine(p1, skewBtc, COL.btc, 2.3);
drawLine(p1, skewEth, COL.eth, 2.3);
drawLine(p1, skewSol, COL.sol, 2.3);
legend(p1, [{label: "BTC", color: COL.btc, width: 2.8}, {label: "ETH", color: COL.eth, width: 2.8},
            {label: "SOL", color: COL.sol, width: 2.8}],
    [171, 302, 433], [213, 344, 475], [228, 358, 489], [26, 26, 26], 17.5);

// ---- panel 2: exit dial U ----
var p2 = makePanel(1, [0, 1.538], [0, 0.25, 0.5, 0.75, 1.0, 1.25, 1.5],
    function(d) { return d.toFixed(2); }, "exit dial U");
hline(p2, uRedLine, COL.red, 2, "6,3.5");
drawLine(p2, uRecord, COL.red, 2.4);
drawLine(p2, uRecord, COL.restated, 2.0, "4,2.5");
legend(p2, [{label: "U as computed (record)", color: COL.red, width: 2.6},
            {label: "U restated (current constants)", color: COL.restated, width: 2.2, dash: "5,3"}],
    166, 196, 206, [19, 40], 13.6);
note(p2, "red line U = " + uRedLine, 27, COL.red, "end", 1790);

// ---- panel 3: budget ----
var p3 = makePanel(2, [292, 1020.5], [400, 600, 800, 1000],
    function(d) { return d + "k"; }, "budget (USD)");
drawLine(p3, basis, COL.basis, 1.5);
drawLine(p3, bNet, COL.bnet, 3.4);
drawLine(p3, tar95, COL.tar, 2.0, "7,4");
legend(p3, [{label: "B_net (min-to-date)", color: COL.bnet, width: 3.4},
            {label: "basis", color: COL.basis, width: 1.6},
            {label: "TaR95 (reporting)", color: COL.tar, width: 2.0, dash: "7,4"}],
    168, 202, 213, [214, 238, 261], 15.6);

// ---- panel 4: D ----
var p4 = makePanel(3, [-160.4, 8.5], [0, -25, -50, -75, -100, -125, -150],
    function(d) { return d === 0 ? "0" : "\u2212" + Math.abs(d * 1000); }, "D (USD)");
incidentOpen.forEach(function(w) {
    p4.back.append("rect").attr("x", x(w[0])).attr("width", x(w[1]) - x(w[0]))
        .attr("y", 0).attr("height", p4.h).attr("fill", COL.shade)
        .attr("stroke", "#13202c").attr("stroke-width", 1);
});
hline(p4, 0, ZERO, 1.6);
drawLine(p4, dUsdK, COL.d, 2.3);
note(p4, "shaded = incident machine open (episode classification)", 24);

// ---- panel 5: sigma gate ----
var p5 = makePanel(4, [1.31, 24.46], [5, 10, 15, 20],
    function(d) { return (d / 1000).toFixed(3); }, "sigma gate (/sqrt-h)");
hline(p5, sigmaFloorSol, COL.sol, 1.2, "1.5,2.5");
hline(p5, sigmaFloorEth, COL.eth, 1.2, "1.5,2.5");
hline(p5, sigmaFloorBtc, COL.btc, 1.2, "1.5,2.5");
drawLine(p5, sigmaBtc, COL.btc, 2.3);
drawLine(p5, sigmaEth, COL.eth, 2.3);
drawLine(p5, sigmaSol, COL.sol, 2.3);
note(p5, "dotted = running floors", 23);

// ---- panel 6: LP outflow ----
var p6 = makePanel(5, [-0.175, 0.4314], [0, 0.2, 0.4],
    function(d) { return d.toFixed(1); }, "7d LP net outflow (%)");
hline(p6, 0, ZERO, 1.6);
[[lpBtc, COL.btc], [lpEth, COL.eth], [lpSol, COL.sol]].forEach(function(s) {
    p6.plot.append("path").datum(s[0])
        .attr("d", line(p6.y).curve(d3.curveStepAfter))
        .attr("fill", "none").attr("stroke", s[1]).attr("stroke-width", 3);
});
note(p6, "review thresholds: 20 per market / 15 aggregate (PROVISIONAL)", 27);

// x label and footer
svg.append("text").attr("x", (left + right) / 2).attr("y", 2180).attr("dy", "0.35em")
    .attr("text-anchor", "middle").attr("fill", TXT).attr("font-size", FS).text("UTC, 2026-07-29");
svg.append("text").attr("x", 18).attr("y", 2223).attr("dy", "0.35em")
    .attr("fill", MUTED).attr("font-size", 13.6)
    .text("721 ticks (721 ok) | schemas a6b-flows-1 | gaps shaded | generated 2026-08-03 14:02Z");
</script>
</body>
</html>
